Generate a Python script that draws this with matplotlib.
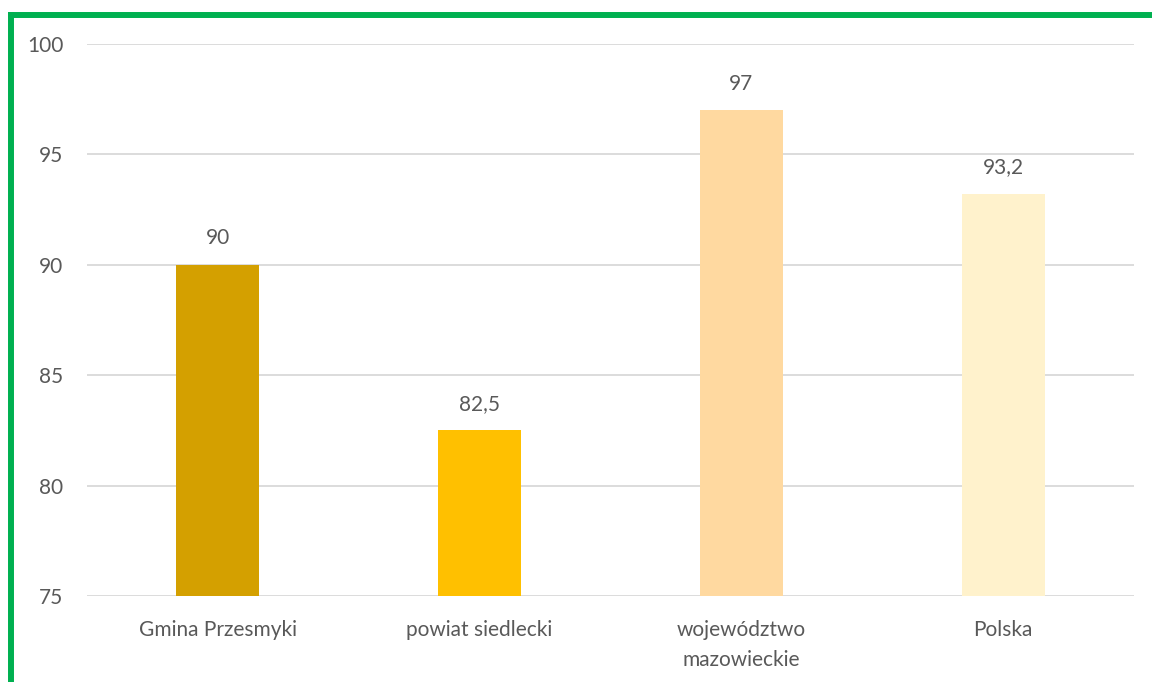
import numpy as np
import matplotlib.pyplot as plt
from matplotlib.lines import Line2D

plt.rcParams['font.family'] = ['Lato', 'DejaVu Sans']

categories = ['Gmina Przesmyki', 'powiat siedlecki', 'województwo\nmazowieckie', 'Polska']
values = [90, 82.5, 97, 93.2]
value_labels = ['90', '82,5', '97', '93,2']
colors = ['#D4A000', '#FFC000', '#FFD9A0', '#FFF2CC']
y_ticks = [75, 80, 85, 90, 95, 100]

text_col = '#595959'

fig = plt.figure(figsize=(11.52, 6.82), dpi=100)
ax = fig.add_axes([87/1152, 1 - 596/682, (1134 - 87)/1152, (596 - 44)/682])

x = np.arange(len(categories))
ax.bar(x, np.array(values) - 75, bottom=75, width=0.317, color=colors, zorder=3)

for xi, v, lab in zip(x, values, value_labels):
    ax.annotate(lab, (xi, v), xytext=(0, 12), textcoords='offset points',
                ha='center', va='bottom', fontsize=15, color=text_col)

ax.set_xlim(-0.5, len(categories) - 0.5)
ax.set_ylim(75, 100)
ax.set_yticks(y_ticks)
ax.set_yticklabels([str(t) for t in y_ticks])
ax.set_xticks(x)
ax.set_xticklabels(categories, linespacing=1.65)
ax.tick_params(axis='y', length=0, pad=17, labelsize=15, labelcolor=text_col)
ax.tick_params(axis='x', length=0, pad=17, labelsize=15, labelcolor=text_col)
ax.yaxis.grid(True, color='#D9D9D9', linewidth=1.3, zorder=0)
for s in ax.spines.values():
    s.set_visible(False)

# green frame (left and top)
green = '#00B050'
fig.add_artist(Line2D([11/1152, 11/1152], [0, 1 - 15/682], transform=fig.transFigure,
                      color=green, linewidth=4.3, solid_capstyle='projecting'))
fig.add_artist(Line2D([11/1152, 1], [1 - 15/682, 1 - 15/682], transform=fig.transFigure,
                      color=green, linewidth=4.3, solid_capstyle='projecting'))

fig.savefig('out.png', dpi=100)
